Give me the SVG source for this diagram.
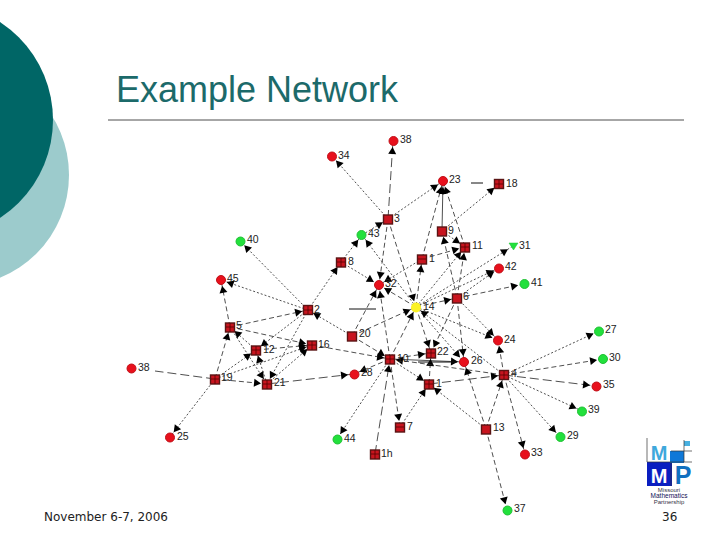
<svg xmlns="http://www.w3.org/2000/svg" width="720" height="540" viewBox="0 0 720 540">
<style>
.e{stroke:#222;stroke-width:.8;fill:none;stroke-dasharray:5 3;marker-end:url(#a)}
.d{stroke-dasharray:2 2}
.l{stroke-dasharray:9 4}
.s{stroke-dasharray:none}
.p{stroke:#111;stroke-width:1}
.sq{fill:#c8141e;stroke:#5a1414;stroke-width:1.400}
.gr{stroke:#500;stroke-width:.8}
.r{fill:#e8101c;stroke:#c01018;stroke-width:1}
.g{fill:#22e03c;stroke:#20c034;stroke-width:1}
text{font-family:"Liberation Sans",Arial,sans-serif;fill:#222}
.n{font-size:10.500px}
</style>
<defs>
<marker id="a" markerUnits="userSpaceOnUse" markerWidth="20" markerHeight="10" viewBox="0 0 20 10" refX="14" refY="5" orient="auto"><path d="M1,1 L8,5 L1,9 Z" fill="#000"/></marker>
</defs>
<rect width="720" height="540" fill="#fff"/>
<circle cx="-42" cy="175" r="111" fill="#9ccbcc"/>
<circle cx="-64" cy="120" r="117" fill="#006666"/>
<text x="116" y="102" font-size="36" style="fill:#1c6a6a">Example Network</text>
<line x1="108" y1="120" x2="684" y2="120" stroke="#222" stroke-width=".8"/>
<text x="44" y="521" style="font-family:'DejaVu Sans',sans-serif;font-size:12px">November 6-7, 2006</text>
<text x="662" y="521" style="font-family:'DejaVu Sans',sans-serif;font-size:12px">36</text>
<g id="connectors">
<line class="e l" x1="388" y1="219" x2="393" y2="141"/>
<line class="e d" x1="388" y1="219" x2="332" y2="156"/>
<line class="e d" x1="388" y1="219" x2="443" y2="181"/>
<line class="e d" x1="442" y1="231" x2="499" y2="184"/>
<line class="e s" x1="442" y1="231" x2="443" y2="181"/>
<line class="e" x1="422" y1="259" x2="443" y2="181"/>
<line class="e" x1="465" y1="247" x2="443" y2="181"/>
<line class="e" x1="416" y1="307" x2="422" y2="259"/>
<line class="e d" x1="416" y1="307" x2="465" y2="247"/>
<line class="e" x1="457" y1="298" x2="465" y2="247"/>
<line class="e" x1="457" y1="298" x2="442" y2="231"/>
<line class="e" x1="422" y1="259" x2="465" y2="247"/>
<line class="e d" x1="442" y1="231" x2="465" y2="247"/>
<line class="e d" x1="416" y1="307" x2="513" y2="246"/>
<line class="e d" x1="416" y1="307" x2="499" y2="268"/>
<line class="e d" x1="457" y1="298" x2="499" y2="268"/>
<line class="e" x1="457" y1="298" x2="524" y2="284"/>
<line class="e" x1="416" y1="307" x2="457" y2="298"/>
<line class="e" x1="388" y1="219" x2="379" y2="285"/>
<line class="e" x1="388" y1="219" x2="416" y2="307"/>
<line class="e d" x1="362" y1="235" x2="388" y2="219"/>
<line class="e d" x1="416" y1="307" x2="362" y2="235"/>
<line class="e d" x1="341" y1="262" x2="362" y2="235"/>
<line class="e d" x1="341" y1="262" x2="379" y2="285"/>
<line class="e d" x1="308" y1="310" x2="341" y2="262"/>
<line class="e d" x1="422" y1="259" x2="379" y2="285"/>
<line class="e" x1="416" y1="307" x2="379" y2="285"/>
<line class="e" x1="352" y1="336" x2="379" y2="285"/>
<line class="e" x1="390" y1="359" x2="379" y2="285"/>
<line class="e d" x1="308" y1="310" x2="240" y2="241"/>
<line class="e d" x1="308" y1="310" x2="221" y2="280"/>
<line class="e d" x1="308" y1="310" x2="267" y2="384"/>
<line class="e d" x1="308" y1="310" x2="256" y2="350"/>
<line class="e" x1="230" y1="327" x2="308" y2="310"/>
<line class="e d" x1="352" y1="336" x2="308" y2="310"/>
<line class="e" x1="230" y1="327" x2="221" y2="280"/>
<line class="e" x1="230" y1="327" x2="312" y2="345"/>
<line class="e d" x1="256" y1="350" x2="230" y2="327"/>
<line class="e" x1="215" y1="379" x2="230" y2="327"/>
<line class="e d" x1="230" y1="327" x2="267" y2="384"/>
<line class="e d" x1="215" y1="379" x2="256" y2="350"/>
<line class="e d" x1="267" y1="384" x2="256" y2="350"/>
<line class="e d" x1="215" y1="379" x2="312" y2="345"/>
<line class="e" x1="215" y1="379" x2="267" y2="384"/>
<line class="l" x1="215" y1="379" x2="155" y2="371" stroke="#222" stroke-width=".8"/>
<line class="e d" x1="215" y1="379" x2="170" y2="437"/>
<line class="e d" x1="267" y1="384" x2="312" y2="345"/>
<line class="e" x1="256" y1="350" x2="312" y2="345"/>
<line class="e l" x1="267" y1="384" x2="354" y2="374"/>
<line class="e" x1="312" y1="345" x2="390" y2="359"/>
<line class="e" x1="352" y1="336" x2="390" y2="359"/>
<line class="e" x1="390" y1="359" x2="416" y2="307"/>
<line class="e" x1="352" y1="336" x2="416" y2="307"/>
<line class="e" x1="416" y1="307" x2="431" y2="353"/>
<line class="e d" x1="416" y1="307" x2="464" y2="362"/>
<line class="e d" x1="416" y1="307" x2="498" y2="340"/>
<line class="e" x1="457" y1="298" x2="431" y2="353"/>
<line class="e" x1="457" y1="298" x2="464" y2="362"/>
<line class="e d" x1="457" y1="298" x2="498" y2="340"/>
<line class="e d" x1="504" y1="375" x2="416" y2="307"/>
<line class="e" x1="504" y1="375" x2="498" y2="340"/>
<line class="e" x1="390" y1="359" x2="431" y2="353"/>
<line class="e s" x1="390" y1="359" x2="464" y2="362"/>
<line class="e" x1="429" y1="384" x2="431" y2="353"/>
<line class="e d" x1="390" y1="359" x2="429" y2="384"/>
<line class="e l" x1="429" y1="384" x2="504" y2="375"/>
<line class="e" x1="504" y1="375" x2="390" y2="359"/>
<line class="e" x1="486" y1="429" x2="504" y2="375"/>
<line class="e" x1="486" y1="429" x2="464" y2="362"/>
<line class="e d" x1="486" y1="429" x2="429" y2="384"/>
<line class="e" x1="486" y1="429" x2="507" y2="510"/>
<line class="e d" x1="504" y1="375" x2="599" y2="331"/>
<line class="e" x1="504" y1="375" x2="603" y2="359"/>
<line class="e l" x1="504" y1="375" x2="596" y2="386"/>
<line class="e d" x1="504" y1="375" x2="582" y2="411"/>
<line class="e d" x1="504" y1="375" x2="560" y2="437"/>
<line class="e" x1="504" y1="375" x2="525" y2="454"/>
<line class="e" x1="390" y1="359" x2="400" y2="427"/>
<line class="e d" x1="400" y1="427" x2="429" y2="384"/>
<line class="e l" x1="375" y1="454" x2="390" y2="359"/>
<line class="e d" x1="390" y1="359" x2="337" y2="439"/>
<line class="e" x1="390" y1="359" x2="354" y2="374"/>
<line class="p" x1="471" y1="183" x2="483" y2="183"/>
<line class="p" x1="349" y1="309" x2="376" y2="309"/>
<line class="p" x1="418" y1="362" x2="457" y2="362"/>
</g>
<g id="n38"><circle class="r" cx="393.500" cy="141" r="4.500"/><text class="n" x="400" y="143">38</text></g>
<g id="n34"><circle class="r" cx="332" cy="156.500" r="4.500"/><text class="n" x="338" y="159">34</text></g>
<g id="n23"><circle class="r" cx="443" cy="181" r="4.500"/><text class="n" x="449" y="183">23</text></g>
<g id="n18"><rect class="sq" x="494.500" y="179.500" width="9" height="9"/><path class="gr" d="M499,180V188M495,184H503"/><text class="n" x="506" y="187">18</text></g>
<g id="n3"><rect class="sq" x="383.500" y="215" width="9" height="9"/><text class="n" x="394" y="222">3</text></g>
<g id="n43"><circle class="g" cx="361.500" cy="235" r="4.500"/><text class="n" x="368" y="237">43</text></g>
<g id="n9"><rect class="sq" x="437.500" y="227" width="9" height="9"/><text class="n" x="448" y="234">9</text></g>
<g id="n11"><rect class="sq" x="460.500" y="243" width="9" height="9"/><path class="gr" d="M465,243V252M461,247H469"/><text class="n" x="472" y="249">11</text></g>
<g id="n17"><rect class="sq" x="417.500" y="255" width="9" height="9"/><path class="gr" d="M418,259H426"/><text class="n" x="429" y="262">1</text></g>
<g id="n31"><path d="M509,243H518L513.500,250Z" fill="#22e03c" stroke="#20c034" stroke-width=".5"/><text class="n" x="519" y="249">31</text></g>
<g id="n42"><circle class="r" cx="499" cy="268.500" r="4.500"/><text class="n" x="505" y="270">42</text></g>
<g id="n41"><circle class="g" cx="524.500" cy="284" r="4.500"/><text class="n" x="531" y="286">41</text></g>
<g id="n8"><rect class="sq" x="336.500" y="258" width="9" height="9"/><path class="gr" d="M341,258V267M337,262H345"/><text class="n" x="348" y="265">8</text></g>
<g id="n40"><circle class="g" cx="240.500" cy="241.500" r="4.500"/><text class="n" x="247" y="243">40</text></g>
<g id="n45"><circle class="r" cx="221" cy="280" r="4.500"/><text class="n" x="227" y="282">45</text></g>
<g id="n32"><circle class="r" cx="379" cy="285" r="4.500"/><text class="n" x="385" y="287">32</text></g>
<g id="n14"><circle cx="416" cy="307.500" r="5" fill="#fbf226"/><text class="n" x="423" y="310">14</text></g>
<g id="n6"><rect class="sq" x="452.500" y="294" width="9" height="9"/><text class="n" x="463" y="300">6</text></g>
<g id="n2"><rect class="sq" x="303.500" y="305.500" width="9" height="9"/><path class="gr" d="M308,306V314M304,310H312"/><text class="n" x="314" y="313">2</text></g>
<g id="n5"><rect class="sq" x="225.500" y="323" width="9" height="9"/><path class="gr" d="M230,323V332M226,327H234"/><text class="n" x="236" y="329">5</text></g>
<g id="n20"><rect class="sq" x="347.500" y="332" width="9" height="9"/><text class="n" x="359" y="337">20</text></g>
<g id="n24"><circle class="r" cx="498" cy="340.500" r="4.500"/><text class="n" x="504" y="343">24</text></g>
<g id="n27"><circle class="g" cx="599" cy="331.500" r="4.500"/><text class="n" x="605" y="333">27</text></g>
<g id="n12"><rect class="sq" x="251.500" y="346" width="9" height="9"/><path class="gr" d="M256,346V355M252,350H260"/><text class="n" x="263" y="353">12</text></g>
<g id="n16"><rect class="sq" x="307.500" y="341" width="9" height="9"/><path class="gr" d="M312,341V350M308,345H316"/><text class="n" x="318" y="348">16</text></g>
<g id="n22"><rect class="sq" x="426.500" y="349" width="9" height="9"/><path class="gr" d="M431,349V358M427,353H435"/><text class="n" x="437" y="355">22</text></g>
<g id="n10"><rect class="sq" x="385.500" y="355" width="9" height="9"/><path class="gr" d="M390,355V364M386,359H394"/><text class="n" x="397" y="362">10</text></g>
<g id="n26"><circle class="r" cx="464" cy="362" r="4.500"/><text class="n" x="471" y="364">26</text></g>
<g id="n28"><circle class="r" cx="354.500" cy="374.500" r="4.500"/><text class="n" x="361" y="376">28</text></g>
<g id="n30"><circle class="g" cx="603" cy="359" r="4.500"/><text class="n" x="609" y="361">30</text></g>
<g id="n36"><circle class="r" cx="131.500" cy="368.500" r="4.500"/><text class="n" x="138" y="371">38</text></g>
<g id="n19"><rect class="sq" x="210.500" y="375" width="9" height="9"/><path class="gr" d="M215,375V384M211,379H219"/><text class="n" x="221" y="381">19</text></g>
<g id="n21"><rect class="sq" x="262.500" y="380" width="9" height="9"/><path class="gr" d="M267,380V389M263,384H271"/><text class="n" x="274" y="386">21</text></g>
<g id="n4"><rect class="sq" x="499.500" y="370.500" width="9" height="9"/><path class="gr" d="M504,371V379M500,375H508"/><text class="n" x="511" y="377">4</text></g>
<g id="n1"><rect class="sq" x="424.500" y="380" width="9" height="9"/><path class="gr" d="M429,380V389M425,384H433"/><text class="n" x="436" y="387">1</text></g>
<g id="n35"><circle class="r" cx="596.500" cy="386.500" r="4.500"/><text class="n" x="603" y="388">35</text></g>
<g id="n39"><circle class="g" cx="582" cy="411.500" r="4.500"/><text class="n" x="588" y="413">39</text></g>
<g id="n7"><rect class="sq" x="395.500" y="423" width="9" height="9"/><path class="gr" d="M396,427H404"/><text class="n" x="407" y="430">7</text></g>
<g id="n13"><rect class="sq" x="481.500" y="425" width="9" height="9"/><text class="n" x="493" y="431">13</text></g>
<g id="n29"><circle class="g" cx="560.500" cy="437" r="4.500"/><text class="n" x="567" y="439">29</text></g>
<g id="n44"><circle class="g" cx="337.500" cy="439.500" r="4.500"/><text class="n" x="344" y="442">44</text></g>
<g id="n25"><circle class="r" cx="170" cy="437.500" r="4.500"/><text class="n" x="177" y="440">25</text></g>
<g id="n15"><rect class="sq" x="370.500" y="450" width="9" height="9"/><path class="gr" d="M375,450V459M371,454H379"/><text class="n" x="381" y="457">1h</text></g>
<g id="n33"><circle class="r" cx="525" cy="454.500" r="4.500"/><text class="n" x="531" y="456">33</text></g>
<g id="n37"><circle class="g" cx="507.500" cy="510.500" r="4.500"/><text class="n" x="514" y="512">37</text></g>
<g id="logo">
<rect x="647" y="462" width="25" height="24" fill="#0a1ec0"/>
<rect x="670" y="451" width="14" height="12" fill="#0f78d8"/>
<rect x="684" y="441" width="6" height="5" fill="#48b0e0"/>
<path d="M647,438V462H692M671,462V486M684,440V462M671,451H692" fill="none" stroke="#333" stroke-width=".7"/>
<text x="659" y="460" text-anchor="middle" font-size="20" font-weight="bold" style="fill:#3fa8dc">M</text>
<text x="659" y="483" text-anchor="middle" font-size="20" font-weight="bold" style="fill:#fff">M</text>
<text x="683" y="484" text-anchor="middle" font-size="25" font-weight="bold" style="fill:#1070c0">P</text>
<text x="669" y="492" text-anchor="middle" font-size="6" style="fill:#334">Missouri</text>
<text x="669" y="498" text-anchor="middle" font-size="6.500" style="fill:#115">Mathematics</text>
<text x="669" y="504" text-anchor="middle" font-size="6" style="fill:#334">Partnership</text>
</g>
</svg>
